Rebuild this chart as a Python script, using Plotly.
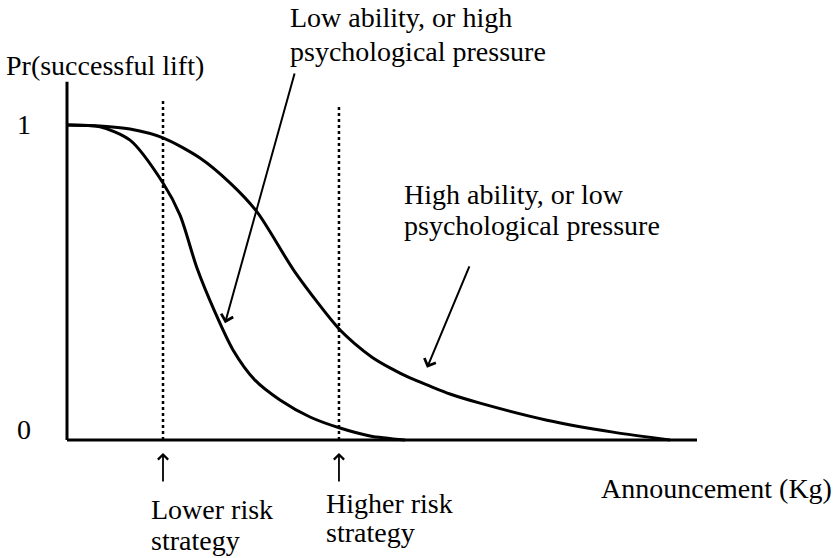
import plotly.graph_objects as go

# ---------------- data (schematic units) ----------------
# x: announcement (arbitrary units 0..10), y: Pr(successful lift)
low_x = [0, 0.524, 1.0, 1.524, 1.794, 2.063, 2.349, 2.635, 2.984, 3.381, 3.857, 4.333, 4.810, 5.365]
low_y = [1.0, 0.994, 0.952, 0.816, 0.714, 0.546, 0.406, 0.286, 0.190, 0.127, 0.073, 0.038, 0.013, 0.0]

high_x = [0, 0.524, 1.0, 1.524, 2.111, 2.587, 3.016, 3.619, 4.302, 4.571, 4.841, 5.127,
          5.444, 5.762, 6.079, 6.556, 7.619, 8.667, 9.571]
high_y = [1.0, 0.997, 0.987, 0.959, 0.895, 0.816, 0.724, 0.533, 0.356, 0.305, 0.263, 0.229,
          0.197, 0.171, 0.146, 0.117, 0.063, 0.025, 0.0]

strategy_x = [1.524, 4.317]
strategy_top = [1.076, 1.057]
strategy_labels = [["Lower risk", "strategy"], ["Higher risk", "strategy"]]

axis_x_max = 10.0
axis_y_max = 1.137
tick_vals = [0, 1]
tick_text = ["0", "1"]

W, H = 837, 558
FONT = "Liberation Serif, Times New Roman, serif"
FS = 28

# pixel <-> data mapping of the figure (margins zero)
X0, XS = 67, 63.0     # pixel of x=0, pixels per unit
Y0, YS = 440, 315.0   # pixel of y=0, pixels per unit
xr = [(0 - X0) / XS, (W - X0) / XS]
yr = [(Y0 - H) / YS, (Y0 - 0) / YS]

def P(px, py):
    return px / W, 1 - py / H

fig = go.Figure()

fig.add_trace(go.Scatter(x=low_x, y=low_y, mode="lines",
                         line=dict(color="black", width=3, shape="spline", smoothing=0.8),
                         hoverinfo="skip"))
fig.add_trace(go.Scatter(x=high_x, y=high_y, mode="lines",
                         line=dict(color="black", width=3, shape="spline", smoothing=0.8),
                         hoverinfo="skip"))

# axes
fig.add_shape(type="line", x0=0, y0=0, x1=0, y1=axis_y_max, line=dict(color="black", width=3))
fig.add_shape(type="line", x0=0, y0=0, x1=axis_x_max, y1=0, line=dict(color="black", width=3))

# dotted strategy lines
for sx, st in zip(strategy_x, strategy_top):
    fig.add_shape(type="line", x0=sx, y0=0, x1=sx, y1=st,
                  line=dict(color="black", width=2.5, dash="dot"))

ann = []
# tick labels
for tv, tt in zip(tick_vals, tick_text):
    px, py = P(24, 125 if tv == 1 else 430)
    ann.append(dict(x=px, y=py, xref="paper", yref="paper", text=tt,
                    showarrow=False, xanchor="center", yanchor="middle"))

# y-axis title
px, py = P(4, 65)
ann.append(dict(x=px, y=py, xref="paper", yref="paper", text="Pr(successful lift)",
                showarrow=False, xanchor="left", yanchor="middle"))

# x-axis title
px, py = P(834, 488)
ann.append(dict(x=px, y=py, xref="paper", yref="paper", text="Announcement (Kg)",
                showarrow=False, xanchor="right", yanchor="middle"))

# curve labels
for txt, (lx, ly) in [("Low ability, or high", (288, 18)),
                      ("psychological pressure", (288, 51)),
                      ("High ability, or low", (402, 194)),
                      ("psychological pressure", (402, 226))]:
    px, py = P(lx, ly)
    ann.append(dict(x=px, y=py, xref="paper", yref="paper", text=txt,
                    showarrow=False, xanchor="left", yanchor="middle"))

# strategy labels
for (l1, l2), (lx, ly, dy) in zip(strategy_labels, [(149, 509, 31), (324, 503, 29)]):
    for i, t in enumerate([l1, l2]):
        px, py = P(lx, ly + i * dy)
        ann.append(dict(x=px, y=py, xref="paper", yref="paper", text=t,
                        showarrow=False, xanchor="left", yanchor="middle"))

# pointer arrows to curves
for (tx, ty), (ax, ay) in [((2.508, 0.371), (3.619, 1.168)),
                           ((5.714, 0.229), (6.397, 0.556))]:
    ann.append(dict(x=tx, y=ty, ax=ax, ay=ay, xref="x", yref="y", axref="x", ayref="y",
                    text="", showarrow=True, arrowhead=4, arrowsize=1.2, arrowwidth=2,
                    arrowcolor="black"))

# small upward arrows under strategies
for sx in strategy_x:
    ann.append(dict(x=sx, y=-0.041, ax=sx, ay=-0.1365, xref="x", yref="y", axref="x", ayref="y",
                    text="", showarrow=True, arrowhead=4, arrowsize=1.1, arrowwidth=1.8,
                    arrowcolor="black"))

fig.update_layout(
    width=W, height=H,
    margin=dict(l=0, r=0, t=0, b=0),
    paper_bgcolor="white", plot_bgcolor="white",
    showlegend=False,
    font=dict(family=FONT, size=FS, color="black"),
    xaxis=dict(range=xr, visible=False, fixedrange=True),
    yaxis=dict(range=yr, visible=False, fixedrange=True),
    annotations=ann,
)

fig.write_html("out.html", config={"displayModeBar": False},
               post_script="document.body.style.margin='0px';")
